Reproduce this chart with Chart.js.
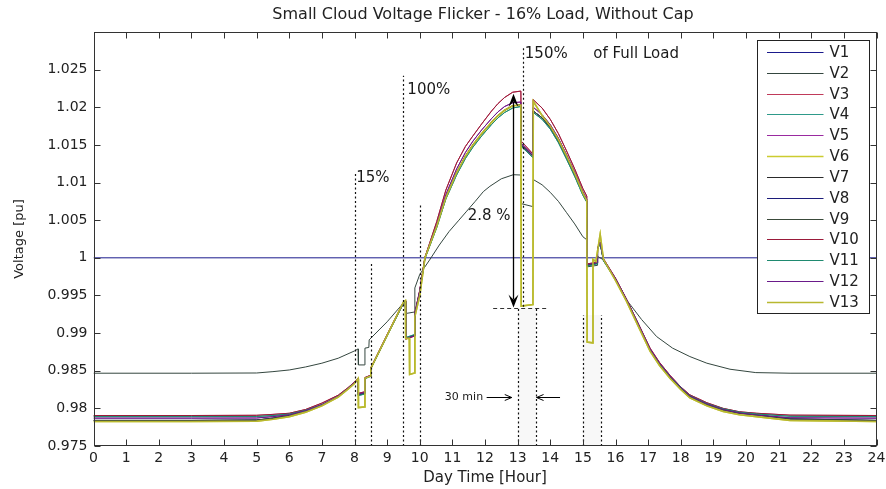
<!DOCTYPE html>
<html><head><meta charset="utf-8">
<script src="https://cdn.jsdelivr.net/npm/chart.js@4.4.1/dist/chart.umd.min.js"></script>
<style>html,body{margin:0;padding:0;background:#fff}canvas{display:block}</style>
</head><body>
<canvas id="c" width="886" height="489"></canvas>
<script>
// ---------- data ----------
const xTickLabels = ['0','1','2','3','4','5','6','7','8','9','10','11','12','13','14','15','16','17','18','19','20','21','22','23','24'];
const yTickLabels = ['0.975','0.98','0.985','0.99','0.995','1','1.005','1.01','1.015','1.02','1.025'];

const seriesNames = ['V1','V2','V3','V4','V5','V6','V7','V8','V9','V10','V11','V12','V13'];
const seriesColors = ['#1a1a8c','#34463f','#c03a5a','#2e9a8a','#9a2aa0','#cccc30','#2a2a2a','#1c1c7a','#3a4a3a','#9a1a3a','#1f8a70','#6a1a8a','#b8b830'];

const hrsV1 = [0, 24];
const v1 = [1.0, 1.0];

const hrsV2 = [0,3,5,5.5,6,6.5,7,7.5,8, 8.11,8.12,8.31,8.32,8.44,8.45, 9,9.5,9.56,9.57,9.84,9.85,10, 10.3,10.6,10.9,11.2,11.44,11.7,11.95,12.15,12.5,12.87,13.1, 13.11,13.47,13.48, 13.75,14,14.25,14.5,14.75,15,15.12, 15.13,15.44,15.45,15.63, 16,16.34,16.8,17.26,17.75,18.28,18.8,19.51,20.3,21.35,24];
const v2 = [.98467,.98467,.98470,.98488,.98510,.98550,.98600,.98666,.98763,
 .98790,.98577,.98577,.98800,.98810,.98910,
 .99150,.99400,.99410,.99260,.99280,.99600,.99780,
 .99970,1.00170,1.00350,1.00500,1.00620,1.00750,1.00880,1.00950,1.01050,1.01104,1.01100,
 1.00720,1.00680,1.01040,
 1.00970,1.00870,1.00750,1.00600,1.00450,1.00280,1.00240,
 .99880,.99900,1.00020,.99973,
 .99720,.99441,.99180,.98954,.98800,.98688,.98600,.98520,.98475,.98467,.98467];

const hrsLow = [0,3,5,5.5,6,6.5,7,7.5,7.8,8, 8.11,8.12,8.31,8.32,8.49,8.5, 9,9.5,9.56,9.57,9.84,9.85, 10,10.16,10.52,10.8,11.13,11.4,11.63,11.9,12.2,12.4,12.6,12.85,13.1, 13.11,13.47,13.48, 13.75,14,14.25,14.5,14.75,15,15.12, 15.13,15.44,15.45,15.53,15.63, 16,16.34,16.7,17.06,17.35,17.67,18,18.28,18.8,19.3,19.8,20.33,21.35,24];
const vRed = [.97905,.97905,.97908,.97920,.97935,.97985,.98070,.98175,.98275,.98350,
 .98400,.98200,.98220,.98410,.98440,.98540,
 .98980,.99410,.99430,.98920,.98960,.99270,
 .99570,1.00010,1.00480,1.00900,1.01260,1.01480,1.01620,1.01780,1.01950,1.02050,1.02130,1.02200,1.02215,
 1.01550,1.01380,1.02100,
 1.01990,1.01840,1.01650,1.01420,1.01180,1.00920,1.00820,
 .99920,.99940,1.00130,1.00210,.99990,
 .99730,.99450,.99125,.98800,.98610,.98440,.98285,.98180,.98075,.98000,.97955,.97935,.97910,.97905];
const vCyan = [.97890,.97890,.97892,.97905,.97925,.97975,.98050,.98160,.98265,.98340,
 .98390,.98170,.98190,.98395,.98425,.98525,
 .98965,.99395,.99415,.98940,.98980,.99250,
 .99540,.99990,1.00400,1.00780,1.01100,1.01320,1.01470,1.01620,1.01770,1.01860,1.01930,1.01990,1.02010,
 1.01480,1.01330,1.01930,
 1.01840,1.01710,1.01530,1.01310,1.01080,1.00830,1.00740,
 .99890,.99920,1.00110,1.00190,.99960,
 .99710,.99435,.99110,.98780,.98595,.98430,.98280,.98170,.98065,.97995,.97950,.97925,.97895,.97890];
const vMag = [.97870,.97870,.97872,.97890,.97915,.97970,.98050,.98160,.98265,.98345,
 .98395,.98190,.98210,.98405,.98435,.98535,
 .98975,.99405,.99425,.98925,.98965,.99260,
 .99560,1.00005,1.00440,1.00840,1.01180,1.01400,1.01550,1.01700,1.01850,1.01940,1.02010,1.02060,1.02070,
 1.01520,1.01360,1.02000,
 1.01900,1.01770,1.01590,1.01370,1.01140,1.00880,1.00780,
 .99910,.99935,1.00125,1.00205,.99980,
 .99725,.99445,.99120,.98790,.98600,.98430,.98280,.98165,.98060,.97985,.97940,.97910,.97875,.97870];
const vDark = [.97840,.97840,.97845,.97870,.97905,.97965,.98045,.98156,.98260,.98338,
 .98390,.98180,.98200,.98400,.98430,.98530,
 .98970,.99400,.99420,.98930,.98970,.99250,
 .99550,1.00000,1.00420,1.00800,1.01130,1.01350,1.01500,1.01650,1.01800,1.01890,1.01960,1.02020,1.02030,
 1.01500,1.01350,1.01950,
 1.01860,1.01730,1.01550,1.01330,1.01100,1.00850,1.00750,
 .99900,.99930,1.00120,1.00200,.99970,
 .99720,.99440,.99110,.98777,.98590,.98422,.98270,.98156,.98050,.97979,.97935,.97912,.97860,.97840];

const hrsYel = [0,3,5,5.5,6,6.5,7,7.5,7.8,8, 8.11,8.12,8.31,8.32,8.49,8.5, 9,9.5,9.56,9.57,9.68,9.69,9.84,9.85, 10,10.16,10.52,10.8,11.13,11.4,11.63,11.9,12.2,12.4,12.6,12.85,13.1, 13.11,13.47,13.48, 13.75,14,14.25,14.5,14.75,15,15.12, 15.13,15.3,15.31,15.4,15.53,15.63, 16,16.34,16.7,17.06,17.35,17.67,18,18.28,18.8,19.3,19.8,20.33,21.35,24];
const vYel = [.97825,.97825,.97830,.97855,.97890,.97950,.98035,.98150,.98255,.98330,
 .98395,.98010,.98020,.98400,.98430,.98530,
 .98970,.99410,.99430,.98930,.98930,.98450,.98470,.99220,
 .99500,1.00000,1.00420,1.00800,1.01130,1.01350,1.01500,1.01650,1.01800,1.01890,1.01960,1.02020,1.02030,
 .99360,.99380,1.02080,
 1.01890,1.01750,1.01570,1.01350,1.01120,1.00860,1.00760,
 .98880,.98870,.99980,.99950,1.00310,.99980,
 .99700,.99420,.99090,.98760,.98570,.98400,.98250,.98140,.98035,.97960,.97915,.97890,.97840,.97825];

// annotation anchors (data coordinates)
const cloudLines = [[8,0.975,1.0113],[8.5,0.975,0.9994],[9.5,0.975,1.0242],[10,0.975,1.0070],[13.15,0.9935,1.0280],[13,0.975,0.99335],[13.55,0.975,0.99335],[15,0.975,0.9924],[15.55,0.975,0.9924]];
const shadeSpans = [[13,13.55,0.99335],[15,15.55,0.9924]];
const dashLine = [12.25,13.9,0.99335];
const dropArrow = [12.87,1.0218,0.9934];
const minArrows = [[12.05,12.82,0.98148],[14.3,13.58,0.98148]];
const notes = [['15%',8.05,1.0106],['100%',9.62,1.0223],['150%',13.22,1.0270],['of Full Load',15.32,1.0270],['2.8 %',11.47,1.0055]];
const minLabel = ['30 min',10.77,0.98150];
const chartTitle = 'Small Cloud Voltage Flicker - 16% Load, Without Cap';

// ---------- build ----------
const seriesSrc = [
  [hrsV1,v1],[hrsV2,v2],[hrsLow,vRed],[hrsLow,vCyan],[hrsLow,vMag],[hrsYel,vYel],
  [hrsLow,vDark],[hrsLow,vDark],[hrsLow,vDark],[hrsLow,vRed],[hrsLow,vCyan],[hrsLow,vMag],[hrsYel,vYel]
];
const FONT = "'DejaVu Sans', sans-serif";
Chart.defaults.font.family = FONT;

const datasets = seriesSrc.map(([h,v],i)=>({
  label: seriesNames[i],
  data: h.map((x,k)=>({x:x, y:v[k]})),
  borderColor: seriesColors[i],
  backgroundColor: seriesColors[i],
  borderWidth: (i===5||i===12) ? 1.6 : 1,
  pointRadius: 0,
  tension: 0,
  fill: false,
  order: 12 - i
}));

function head(ctx, tx, ty, dx, dy, len, wid, filled){
  const n = Math.hypot(dx,dy); const ux=dx/n, uy=dy/n; const px=-uy, py=ux;
  const bx = tx-ux*len, by = ty-uy*len;
  ctx.beginPath();
  ctx.moveTo(bx+px*wid/2, by+py*wid/2);
  ctx.lineTo(tx,ty);
  ctx.lineTo(bx-px*wid/2, by-py*wid/2);
  if(filled){ ctx.lineTo(tx-ux*len*0.6, ty-uy*len*0.6); ctx.closePath(); ctx.fill(); }
  else ctx.stroke();
}

const decor = {
  id:'decor',
  beforeDatasetsDraw(chart){
    const {ctx, scales:{x,y}} = chart;
    ctx.save();
    ctx.fillStyle = 'rgba(190,190,190,0.10)';
    shadeSpans.forEach(([a,b,t])=>{
      const x0=x.getPixelForValue(a), x1=x.getPixelForValue(b);
      const y0=y.getPixelForValue(t), y1=y.getPixelForValue(0.975);
      ctx.fillRect(x0,y0,x1-x0,y1-y0);
    });
    ctx.restore();
  },
  afterDatasetsDraw(chart){
    const {ctx, chartArea:ca, scales:{x,y}} = chart;
    ctx.save();
    // dotted event lines
    ctx.strokeStyle='#111'; ctx.lineWidth=1.2; ctx.setLineDash([2,2.5]);
    cloudLines.forEach(([h,lo,hi])=>{
      const px=Math.round(x.getPixelForValue(h))+0.5;
      ctx.beginPath(); ctx.moveTo(px,y.getPixelForValue(lo)); ctx.lineTo(px,y.getPixelForValue(hi)); ctx.stroke();
    });
    ctx.setLineDash([4,3]); ctx.strokeStyle='#333'; ctx.lineWidth=1;
    const dy=Math.round(y.getPixelForValue(dashLine[2]))+0.5;
    ctx.beginPath(); ctx.moveTo(x.getPixelForValue(dashLine[0]),dy); ctx.lineTo(x.getPixelForValue(dashLine[1]),dy); ctx.stroke();
    ctx.setLineDash([]);
    // 2.8% arrow
    ctx.strokeStyle='#000'; ctx.fillStyle='#000'; ctx.lineWidth=1.3;
    const ax=Math.round(x.getPixelForValue(dropArrow[0]))+0.5, ay0=y.getPixelForValue(dropArrow[1]), ay1=y.getPixelForValue(dropArrow[2]);
    ctx.beginPath(); ctx.moveTo(ax,ay0+8); ctx.lineTo(ax,ay1-8); ctx.stroke();
    head(ctx,ax,ay0,0,-1,13,10,true);
    head(ctx,ax,ay1,0,1,13,10,true);
    // 30 min arrows
    ctx.lineWidth=1;
    minArrows.forEach(([a,b,v])=>{
      const yy=Math.round(y.getPixelForValue(v))+0.5, xa=x.getPixelForValue(a), xb=x.getPixelForValue(b);
      ctx.beginPath(); ctx.moveTo(xa,yy); ctx.lineTo(xb,yy); ctx.stroke();
      head(ctx,xb,yy,xb-xa,0,7,6,false);
    });
    // texts
    ctx.fillStyle='#1a1a1a'; ctx.textBaseline='middle'; ctx.textAlign='left';
    ctx.font = '15px '+FONT;
    notes.forEach(([t,h,v])=>ctx.fillText(t, x.getPixelForValue(h), y.getPixelForValue(v)));
    ctx.font = '11px '+FONT;
    ctx.fillText(minLabel[0], x.getPixelForValue(minLabel[1]), y.getPixelForValue(minLabel[2]));
    // title
    ctx.font = '16px '+FONT; ctx.textAlign='center'; ctx.fillStyle='#222';
    ctx.fillText(chartTitle, (ca.left+ca.right)/2 - 2, 15);
    // frame + inward ticks
    ctx.strokeStyle='#333'; ctx.lineWidth=1;
    const L=Math.round(ca.left)+0.5, R=Math.round(ca.right)-0.5, T=Math.round(ca.top)+0.5, B=Math.round(ca.bottom)-0.5;
    ctx.strokeRect(L,T,R-L,B-T);
    ctx.beginPath();
    x.ticks.forEach(tk=>{ const p=Math.round(x.getPixelForValue(tk.value))+0.5; ctx.moveTo(p,B); ctx.lineTo(p,B-6); ctx.moveTo(p,T); ctx.lineTo(p,T+6); });
    y.ticks.forEach(tk=>{ if(tk.value>1.0275) return; const p=Math.round(y.getPixelForValue(tk.value))+0.5; ctx.moveTo(L,p); ctx.lineTo(L+6,p); ctx.moveTo(R,p); ctx.lineTo(R-6,p); });
    ctx.stroke();
    // legend box
    const lw=112, lh=273, lx=Math.round(ca.right-120)+0.5, ly=Math.round(ca.top+8)+0.5;
    ctx.fillStyle='#fff'; ctx.fillRect(lx,ly,lw,lh);
    ctx.strokeStyle='#222'; ctx.strokeRect(lx,ly,lw,lh);
    ctx.font='15px '+FONT; ctx.textAlign='left'; ctx.textBaseline='middle';
    seriesNames.forEach((n,i)=>{
      const yy=Math.round(ly+11.5+i*20.83)+0.5;
      ctx.strokeStyle=seriesColors[i]; ctx.lineWidth=(i===5||i===12)?1.6:1;
      ctx.beginPath(); ctx.moveTo(lx+9.5,yy); ctx.lineTo(lx+66,yy); ctx.stroke();
      ctx.fillStyle='#222'; ctx.fillText(n, lx+72, yy+0.5);
    });
    ctx.restore();
  }
};

new Chart(document.getElementById('c'), {
  type:'line',
  data:{datasets},
  options:{
    responsive:false,
    animation:false,
    parsing:true,
    layout:{padding:{left:0,right:9.5,top:32,bottom:0}},
    plugins:{legend:{display:false},title:{display:false},tooltip:{enabled:false}},
    scales:{
      x:{
        type:'linear', min:0, max:24,
        grid:{display:false, drawTicks:false}, border:{display:false},
        ticks:{stepSize:1, autoSkip:false, maxRotation:0, padding:4, color:'#222', font:{size:14},
          callback:(v,i)=>xTickLabels[i]},
        title:{display:true, text:'Day Time [Hour]', color:'#222', font:{size:15}, padding:{top:0,bottom:2}},
        afterFit:s=>{ s.height=43; s.paddingLeft=0; s.paddingRight=0; }
      },
      y:{
        type:'linear', min:0.975, max:1.03,
        grid:{display:false, drawTicks:false}, border:{display:false},
        ticks:{stepSize:0.005, autoSkip:false, padding:6, color:'#222', font:{size:14},
          callback:(v,i)=> (yTickLabels[i] !== undefined ? yTickLabels[i] : '')},
        title:{display:true, text:'Voltage [pu]', color:'#222', font:{size:13}, padding:{top:12,bottom:0}},
        afterFit:s=>{ s.width=93.5; s.paddingTop=0; s.paddingBottom=0; }
      }
    }
  },
  plugins:[decor]
});
</script>
</body></html>
